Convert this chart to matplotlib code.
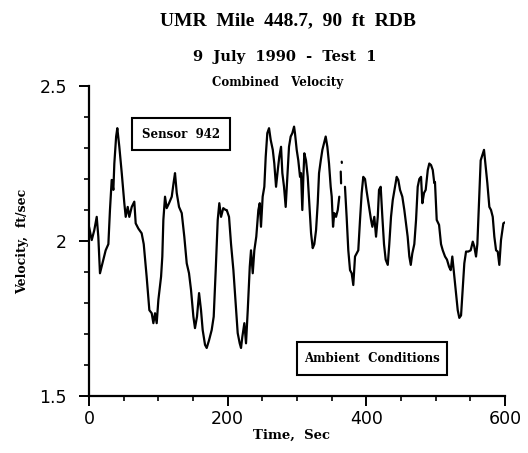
import numpy as np
import matplotlib
matplotlib.use('Agg')
import matplotlib.pyplot as plt
from matplotlib.patches import Rectangle

# velocity record (sec, ft/sec); nan = dropout
time_sec = [0, 3.9, 7.6, 11.1, 13.4, 15.8, 20.7, 24.0, 27.9, 30.2, 32.7, 35.1, 36.5, 39.1,
            40.8, 43.7, 47.2, 50.9, 52.9, 55.8, 58.1, 61.6, 65.3, 67.3, 71.2, 75.9, 78.9,
            83.1, 87.0, 90.4, 92.8, 95.2, 97.6, 100.0, 103.9, 105.7, 107.2, 109.6, 112.0,
            115.4, 119.3, 122.1, 124.0, 126.5, 129.8, 133.7, 137.4, 140.9, 144.2, 147.1,
            150.5, 152.8, 155.7, 158.7, 161.5, 163.9, 167.3, 169.7, 173.1, 176.9, 179.8,
            182.7, 185.6, 187.9, 190.4, 193.6, 197.1, 198.6, 201.9, 204.8, 208.2, 211.5,
            214.4, 217.3, 219.2, 221.1, 224.0, 226.4, 228.9, 231.8, 233.6, 236.1, 238.4,
            241.2, 244.2, 246.2, 248.0, 250.4, 252.8, 254.8, 257.1, 259.6, 262.0, 265.0,
            267.2, 269.7, 272.2, 274.4, 276.9, 278.8, 281.2, 283.6, 286.0, 288.4, 290.8,
            293.2, 295.7, 297.0, 299.5, 301.8, 304.3, 305.7, 307.6, 309.1, 310.5, 312.9,
            315.4, 317.7, 320.2, 322.6, 324.9, 327.4, 329.8, 331.7, 334.2, 336.5, 338.9,
            341.3, 343.7, 346.1, 348.5, 350.0, 351.9, 353.7, 356.2, 358.7, 360.9,
            361.5, 363.0, 363.5, 363.8, 364.4, 364.6, 366.0,
            369.1, 371.5, 373.9, 376.4, 378.8, 381.1, 383.6, 386.0, 388.3, 390.8, 393.2,
            395.5, 398.0, 400.4, 403.8, 406.7, 408.6, 411.4, 413.9, 416.4, 418.2, 420.6,
            423.0, 425.4, 427.8, 430.8, 433.0, 435.5, 438.0, 441.2, 443.7, 446.0, 448.5,
            451.8, 454.7, 457.1, 459.5, 461.9, 464.0, 466.2, 469.1, 471.6, 474.0, 476.3,
            478.8, 480.7, 483.1, 485.5, 488.5, 490.7, 493.2, 495.7, 497.9, 498.9, 501.4,
            504.8, 507.6, 510.1, 513.4, 516.2, 519.2, 521.6, 523.9, 526.8, 529.3, 531.7,
            534.0, 536.5, 538.8, 541.2, 543.7, 547.0, 550.4, 553.4, 555.6, 558.1, 560.0,
            562.4, 564.8, 567.2, 569.6, 572.0, 574.4, 577.3, 579.7, 582.2, 584.5, 587.0,
            589.4, 591.7, 594.1, 597.5, 599.5]
velocity = [2.046, 2.003, 2.035, 2.078, 2.014, 1.896, 1.94, 1.97, 1.99, 2.10, 2.197, 2.165,
            2.25, 2.337, 2.364, 2.304, 2.219, 2.122, 2.078, 2.11, 2.078, 2.11, 2.127, 2.057,
            2.04, 2.025, 1.99, 1.885, 1.777, 1.767, 1.735, 1.767, 1.735, 1.81, 1.885, 1.95,
            2.068, 2.143, 2.106, 2.122, 2.143, 2.19, 2.219, 2.155, 2.11, 2.09, 2.014, 1.928,
            1.896, 1.842, 1.756, 1.719, 1.756, 1.832, 1.777, 1.713, 1.665, 1.655, 1.68,
            1.713, 1.756, 1.906, 2.068, 2.122, 2.078, 2.106, 2.10, 2.10, 2.078, 1.99, 1.906,
            1.80, 1.703, 1.67, 1.655, 1.691, 1.735, 1.67, 1.777, 1.917, 1.97, 1.896, 1.97,
            2.014, 2.10, 2.122, 2.046, 2.143, 2.175, 2.272, 2.348, 2.364, 2.326, 2.294,
            2.25, 2.175, 2.229, 2.272, 2.304, 2.219, 2.175, 2.11, 2.207, 2.304, 2.337,
            2.348, 2.369, 2.348, 2.294, 2.26, 2.207, 2.219, 2.10, 2.207, 2.283, 2.26,
            2.207, 2.122, 2.025, 1.977, 1.99, 2.035, 2.122, 2.219, 2.26, 2.294, 2.315,
            2.337, 2.304, 2.25, 2.175, 2.143, 2.046, 2.09, 2.078, 2.10, 2.143,
            np.nan, 2.224, 2.186, np.nan, 2.256, 2.252, np.nan,
            2.175, 2.078, 1.97, 1.906, 1.896, 1.858, 1.95, 1.96, 1.97, 2.068, 2.155,
            2.207, 2.20, 2.16, 2.11, 2.068, 2.046, 2.078, 2.014, 2.078, 2.165, 2.175,
            2.078, 1.99, 1.94, 1.923, 1.99, 2.078, 2.132, 2.175, 2.207, 2.197, 2.165,
            2.143, 2.10, 2.057, 2.014, 1.95, 1.923, 1.96, 1.99, 2.068, 2.175, 2.20,
            2.207, 2.122, 2.155, 2.165, 2.229, 2.25, 2.245, 2.229, 2.187, 2.19, 2.068,
            2.052, 1.99, 1.97, 1.95, 1.94, 1.917, 1.906, 1.95, 1.885, 1.832, 1.777,
            1.752, 1.76, 1.842, 1.928, 1.966, 1.966, 1.97, 1.998, 1.982, 1.95, 1.99,
            2.122, 2.26, 2.277, 2.294, 2.24, 2.187, 2.11, 2.10, 2.078, 2.014, 1.97,
            1.966, 1.923, 2.003, 2.057, 2.06]

x_ticks = [0, 200, 400, 600]
y_ticks = [1.5, 2.0, 2.5]
y_tick_labels = ['1.5', '2', '2.5']

serif = ['Liberation Serif', 'DejaVu Serif']
wide_serif = ['DejaVu Serif']
sans = ['DejaVu Sans']

fig = plt.figure(figsize=(5.28, 4.53), dpi=100)
ax = fig.add_axes([0.1686, 0.1258, 0.788, 0.6843])

ax.plot(time_sec, velocity, color='black', linewidth=1.6, solid_capstyle='round')

ax.set_xlim(0, 600)
ax.set_ylim(1.5, 2.5)
ax.spines['top'].set_visible(False)
ax.spines['right'].set_visible(False)
for s in ['left', 'bottom']:
    ax.spines[s].set_linewidth(1.6)

ax.set_xticks(x_ticks)
ax.set_xticks(np.arange(0, 601, 50), minor=True)
ax.set_yticks(y_ticks)
ax.set_yticklabels(y_tick_labels)
ax.set_yticks(np.arange(1.5, 2.51, 0.1), minor=True)
ax.tick_params(which='major', direction='out', length=7, width=1.4, labelsize=12.5)
ax.tick_params(axis='x', which='major', pad=3)
ax.tick_params(axis='y', which='major', pad=9)
ax.tick_params(which='minor', direction='out', length=3.5, width=1.2)
for lab in ax.get_xticklabels() + ax.get_yticklabels():
    lab.set_family(sans)

ax.set_xlabel('Time,  Sec', family=wide_serif, fontweight='bold', fontsize=9.5)
ax.xaxis.set_label_coords(0.487, -0.105)
ax.set_ylabel('Velocity,  ft/sec', family=wide_serif, fontweight='bold', fontsize=9)
ax.yaxis.set_label_coords(-0.145, 0.5)

fig.text(0.545, 0.955, 'UMR  Mile  448.7,  90  ft  RDB', family=serif, fontweight='bold',
         fontsize=14, ha='center', va='center')
fig.text(0.54, 0.874, '9  July  1990  -  Test  1', family=wide_serif, fontweight='bold',
         fontsize=10.5, ha='center', va='center')
fig.text(0.525, 0.817, 'Combined   Velocity', family=wide_serif, fontweight='bold',
         fontsize=8.5, ha='center', va='center')

# annotation boxes
ax.add_patch(Rectangle((0.103, 0.794), 0.236, 0.103, transform=ax.transAxes,
                       fill=False, edgecolor='black', linewidth=1.5, clip_on=False))
ax.text(0.221, 0.845, 'Sensor  942', transform=ax.transAxes, family=wide_serif,
        fontweight='bold', fontsize=8.5, ha='center', va='center')
ax.add_patch(Rectangle((0.50, 0.068), 0.361, 0.106, transform=ax.transAxes,
                       fill=False, edgecolor='black', linewidth=1.5, clip_on=False))
ax.text(0.68, 0.121, 'Ambient  Conditions', transform=ax.transAxes, family=wide_serif,
        fontweight='bold', fontsize=8.5, ha='center', va='center')

fig.savefig('out.png', dpi=100)
